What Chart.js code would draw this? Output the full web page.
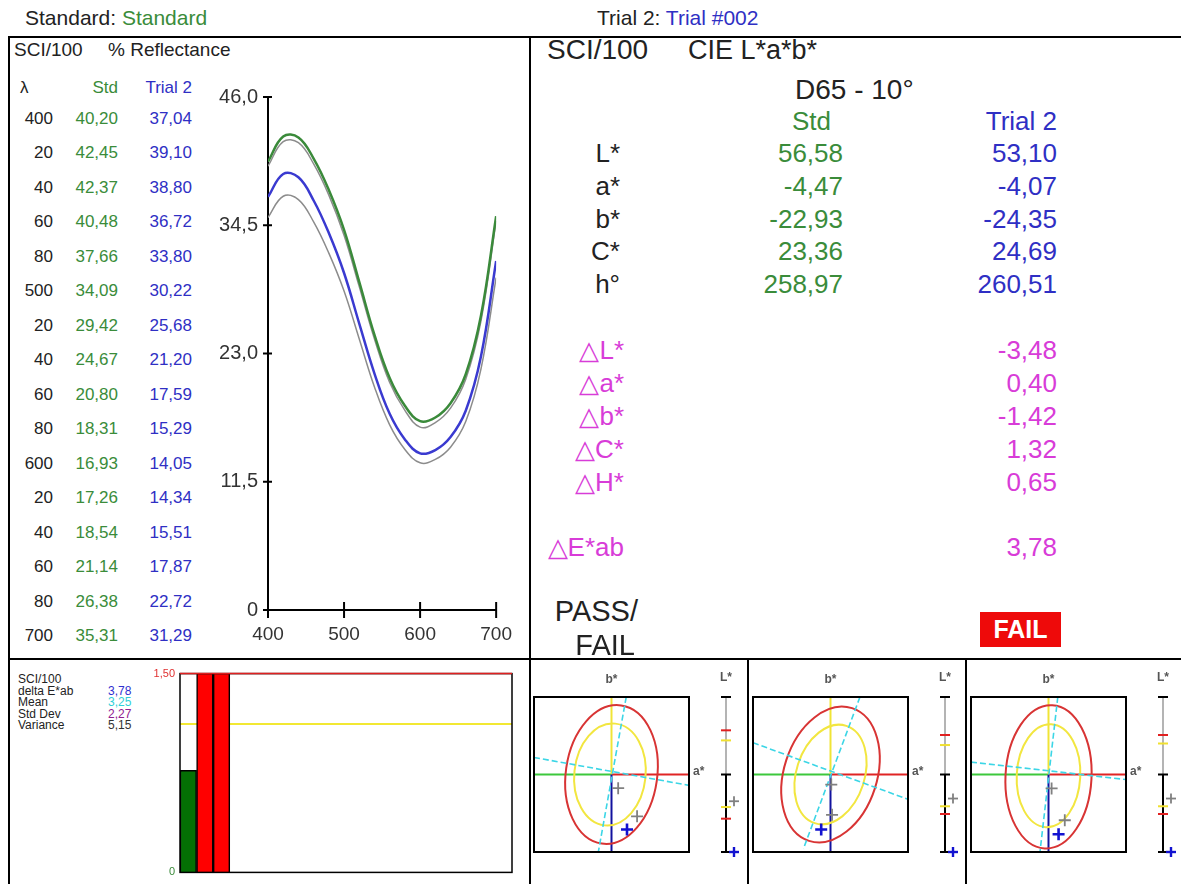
<!DOCTYPE html>
<html>
<head>
<meta charset="utf-8">
<script src="https://cdn.jsdelivr.net/npm/chart.js@4.4.0/dist/chart.umd.min.js"></script>
<style>
body{margin:0;background:#fff;}
#page{position:relative;width:1181px;height:884px;overflow:hidden;background:#fff;font-family:'Liberation Sans',Arial,sans-serif;}
.t{position:absolute;white-space:nowrap;line-height:1;}
.ln{position:absolute;background:#000;}
canvas{position:absolute;}
#fail{position:absolute;left:980px;top:612px;width:81px;height:35px;background:#ee0a0a;color:#fff;font-weight:bold;font-size:25px;line-height:35px;text-align:center;}
</style>
</head>
<body>
<div id="page">
  <div class="ln" style="left:8px;top:36px;width:1173px;height:2px"></div>
  <div class="ln" style="left:8px;top:36px;width:2px;height:848px"></div>
  <div class="ln" style="left:529px;top:36px;width:2px;height:848px"></div>
  <div class="ln" style="left:8px;top:658px;width:1173px;height:2px"></div>
  <div class="ln" style="left:747px;top:659px;width:2px;height:225px"></div>
  <div class="ln" style="left:965px;top:659px;width:2px;height:225px"></div>
  <canvas id="refl" width="325" height="580" style="left:200px;top:75px"></canvas>
  <canvas id="bars" width="380" height="222" style="left:140px;top:662px"></canvas>
  <canvas id="ab0" width="217" height="224" style="left:531px;top:660px"></canvas>
  <canvas id="ab1" width="217" height="224" style="left:750px;top:660px"></canvas>
  <canvas id="ab2" width="213" height="224" style="left:968px;top:660px"></canvas>
  <div id="fail">FAIL</div>
</div>
<script>
// spectral data (% reflectance)
var wavelengths = [400,420,440,460,480,500,520,540,560,580,600,620,640,660,680,700];
var stdRefl   = [40.20,42.45,42.37,40.48,37.66,34.09,29.42,24.67,20.80,18.31,16.93,17.26,18.54,21.14,26.38,35.31];
var trialRefl = [37.04,39.10,38.80,36.72,33.80,30.22,25.68,21.20,17.59,15.29,14.05,14.34,15.51,17.87,22.72,31.29];
// grey companion curves
var stdGrey   = [39.8,42.0,41.9,40.0,37.2,33.6,29.0,24.3,20.4,17.9,16.4,16.8,18.1,20.7,25.9,34.9];
var trialGrey = [35.2,37.1,36.8,34.8,32.0,28.6,24.3,20.0,16.6,14.4,13.2,13.5,14.6,16.9,21.6,29.8];
var xTicks = [400,500,600,700];
var yTicks = [0,11.5,23,34.5,46];
var yTickLabels = ['0','11,5','23,0','34,5','46,0'];

// CIE L*a*b* table
var labNames = ['L*','a*','b*','C*','h°'];
var labStd   = [56.58,-4.47,-22.93,23.36,258.97];
var labTrial = [53.10,-4.07,-24.35,24.69,260.51];
var deltaNames = ['△L*','△a*','△b*','△C*','△H*'];
var deltaVals  = [-3.48,0.40,-1.42,1.32,0.65];
var deltaE = 3.78;

// delta E history
var deRuns = [0.77,5.20,3.78];
var deSlots = 20;
var deLimit = 1.5;
var deWarn = 1.12;
var deStats = [['delta E*ab',3.78,'#3030d0'],['Mean',3.25,'#30d0d8'],['Std Dev',2.27,'#902090'],['Variance',5.15,'#333']];

// a*b* tolerance plots (units of the plot box, centre = standard)
var redEllipse    = [[0.59,0.90,8,0,0],[0.60,0.90,18,0,0],[0.555,0.925,3,0,-0.03]];
var yellowEllipse = [[0.46,0.66,6,-0.02,0],[0.44,0.66,18,0,0],[0.41,0.665,3,0,-0.015]];
var cyanLines = [
  [[[0.19,1.0],[-0.17,-1.0]],[[-1.0,0.22],[1.0,-0.14]]],
  [[[0.38,1.0],[-0.35,-0.96]],[[-1.0,0.41],[1.0,-0.32]]],
  [[[0.12,1.0],[-0.11,-1.0]],[[-1.0,0.16],[1.0,-0.065]]]
];
var abGrey = [[[0.086,-0.176],[0.33,-0.54]],[[0.01,-0.13],[0.02,-0.52]],[[0.04,-0.18],[0.21,-0.59]]];
var abBlue = [[0.20,-0.71],[-0.12,-0.71],[0.13,-0.77]];
var lRed    = [[0.57,-0.57],[0.51,-0.51],[0.51,-0.51]];
var lYellow = [[0.44,-0.42],[0.38,-0.41],[0.40,-0.41]];
var lGrey   = [-0.345,-0.31,-0.31];
var lBlue   = [-1.0,-1.0,-1.0];

var FONT = "'Liberation Sans', Arial, sans-serif";
var GREEN = '#3a8c3a', BLUE = '#2f2fc4', MAG = '#d83cd8';
Chart.defaults.font.family = FONT;

function fmt(v, d) { return v.toFixed(d).replace('.', ','); }

var page = document.getElementById('page');
function put(x, y, s, o) {
    o = o || {};
    var d = document.createElement('div');
    d.className = 't';
    d.innerHTML = s;
    d.style.left = x + 'px';
    d.style.top = y + 'px';
    d.style.fontSize = (o.size || 16) + 'px';
    d.style.color = o.color || '#222';
    var tx = o.align == 'right' ? '-100%' : (o.align == 'center' ? '-50%' : '0');
    d.style.transform = 'translate(' + tx + ',-50%)';
    page.appendChild(d);
    return d;
}

// header
put(25, 17, 'Standard: <span style="color:' + GREEN + '">Standard</span>', {size:21});
put(597, 17, 'Trial 2: <span style="color:' + BLUE + '">Trial #002</span>', {size:21});

// left table
put(14, 49, 'SCI/100', {size:19});
put(108, 49, '% Reflectance', {size:19});
put(20, 87, 'λ', {size:17});
put(118, 87, 'Std', {size:17, align:'right', color:GREEN});
put(192, 87, 'Trial 2', {size:17, align:'right', color:BLUE});
for (var i = 0; i < wavelengths.length; i++) {
    var w = wavelengths[i];
    var y = 118 + i * 34.47;
    put(53, y, String(w % 100 == 0 ? w : w % 100), {size:17, align:'right'});
    put(118, y, fmt(stdRefl[i], 2), {size:17, align:'right', color:GREEN});
    put(192, y, fmt(trialRefl[i], 2), {size:17, align:'right', color:BLUE});
}

// right table
put(547, 50, 'SCI/100', {size:28});
put(688, 50, 'CIE L*a*b*', {size:27});
put(795, 90, 'D65 - 10°', {size:28});
put(831, 121, 'Std', {size:26, align:'right', color:GREEN});
put(1057, 121, 'Trial 2', {size:26, align:'right', color:BLUE});
for (var i = 0; i < labNames.length; i++) {
    var y = 153 + i * 32.8;
    put(620, y, labNames[i], {size:26, align:'right'});
    put(843, y, fmt(labStd[i], 2), {size:26, align:'right', color:GREEN});
    put(1057, y, fmt(labTrial[i], 2), {size:26, align:'right', color:BLUE});
}
for (var i = 0; i < deltaNames.length; i++) {
    var y = 350 + i * 33;
    put(624, y, deltaNames[i], {size:26, align:'right', color:MAG});
    put(1057, y, fmt(deltaVals[i], 2), {size:26, align:'right', color:MAG});
}
put(624, 547, '△E*ab', {size:26, align:'right', color:MAG});
put(1057, 547, fmt(deltaE, 2), {size:26, align:'right', color:MAG});
put(638, 611, 'PASS/', {size:29, align:'right'});
put(635, 645, 'FAIL', {size:29, align:'right'});

// bottom left stats
put(18, 679, 'SCI/100', {size:12});
for (var i = 0; i < deStats.length; i++) {
    put(18, 690.5 + i * 11.5, deStats[i][0], {size:12});
    put(108, 690.5 + i * 11.5, fmt(deStats[i][1], 2), {size:12, color:deStats[i][2]});
}

// ---- reflectance curves
var crossTicks = {
    id: 'crossTicks',
    afterDraw: function(chart) {
        var ctx = chart.ctx, a = chart.chartArea;
        var sx = chart.scales.x, sy = chart.scales.y;
        ctx.save();
        ctx.strokeStyle = '#000';
        ctx.lineWidth = 2;
        sx.ticks.forEach(function(t) {
            var p = sx.getPixelForValue(t.value);
            ctx.beginPath(); ctx.moveTo(p, a.bottom - 8); ctx.lineTo(p, a.bottom + 8); ctx.stroke();
        });
        sy.ticks.forEach(function(t) {
            var p = sy.getPixelForValue(t.value);
            ctx.beginPath(); ctx.moveTo(a.left - 5, p); ctx.lineTo(a.left + 4, p); ctx.stroke();
        });
        ctx.restore();
    }
};

function pts(vals) {
    return wavelengths.map(function(w, i) { return {x: w, y: vals[i]}; });
}

var reflChart = new Chart(document.getElementById('refl'), {
    type: 'line',
    data: {
        datasets: [
            {label: 'Std', data: pts(stdRefl), borderColor: '#3a8a3a', borderWidth: 2.5},
            {label: 'Std grey', data: pts(stdGrey), borderColor: '#8c8c8c', borderWidth: 1.5},
            {label: 'Trial 2', data: pts(trialRefl), borderColor: '#3a3ad0', borderWidth: 2.5},
            {label: 'Trial grey', data: pts(trialGrey), borderColor: '#8c8c8c', borderWidth: 1.5}
        ]
    },
    options: {
        responsive: false,
        animation: false,
        layout: {padding: {top: 16, right: 17, left: 0, bottom: 0}, autoPadding: false},
        plugins: {legend: {display: false}, tooltip: {enabled: false}},
        elements: {point: {radius: 0}, line: {tension: 0.4}},
        scales: {
            x: {
                type: 'linear', min: 400, max: 700,
                afterBuildTicks: function(s) { s.ticks = xTicks.map(function(v) { return {value: v}; }); },
                afterFit: function(s) { s.height = 45; },
                grid: {display: false, drawTicks: false},
                border: {color: '#000', width: 2},
                ticks: {color: '#333', font: {size: 19}, padding: 13, maxRotation: 0}
            },
            y: {
                min: 0, max: 46,
                afterBuildTicks: function(s) { s.ticks = yTicks.map(function(v) { return {value: v}; }); },
                afterFit: function(s) { s.width = 68; },
                grid: {display: false, drawTicks: false},
                border: {color: '#000', width: 2},
                ticks: {color: '#333', font: {size: 20}, padding: 10,
                    callback: function(v) { return yTickLabels[yTicks.indexOf(v)]; }}
            }
        }
    },
    plugins: [crossTicks]
});

// ---- delta E bars
var deFrame = {
    id: 'deFrame',
    beforeDatasetsDraw: function(chart) {
        var ctx = chart.ctx, a = chart.chartArea, y = chart.scales.y;
        var yw = y.getPixelForValue(deWarn);
        ctx.save();
        ctx.strokeStyle = '#f2e832'; ctx.lineWidth = 2;
        ctx.beginPath(); ctx.moveTo(a.left, yw); ctx.lineTo(a.right, yw); ctx.stroke();
        ctx.restore();
    },
    afterDatasetsDraw: function(chart) {
        var ctx = chart.ctx, a = chart.chartArea, y = chart.scales.y;
        ctx.save();
        ctx.strokeStyle = '#000'; ctx.lineWidth = 1.5;
        ctx.strokeRect(a.left, a.top, a.width, a.height);
        var yl = y.getPixelForValue(deLimit);
        ctx.strokeStyle = '#e02020'; ctx.lineWidth = 1.5;
        ctx.beginPath(); ctx.moveTo(a.left, yl); ctx.lineTo(a.right, yl); ctx.stroke();
        ctx.restore();
    }
};

var deLabels = [];
var deData = [];
for (var i = 0; i < deSlots; i++) {
    deLabels.push(String(i + 1));
    deData.push(i < deRuns.length ? deRuns[i] : null);
}

var barChart = new Chart(document.getElementById('bars'), {
    type: 'bar',
    data: {
        labels: deLabels,
        datasets: [{
            label: 'delta E*ab',
            data: deData,
            backgroundColor: deData.map(function(v) { return v != null && v <= deLimit ? '#047004' : '#ff0000'; }),
            borderColor: '#000',
            borderWidth: 1.5,
            barPercentage: 1,
            categoryPercentage: 1
        }]
    },
    options: {
        responsive: false,
        animation: false,
        layout: {padding: {top: 8, right: 8, left: 0, bottom: 6}, autoPadding: false},
        plugins: {legend: {display: false}, tooltip: {enabled: false}},
        scales: {
            x: {display: false},
            y: {
                min: 0, max: deLimit,
                afterBuildTicks: function(s) { s.ticks = [{value: 0}, {value: deLimit}]; },
                afterFit: function(s) { s.width = 40; },
                grid: {display: false, drawTicks: false},
                border: {display: false},
                ticks: {font: {size: 11}, padding: 5,
                    color: function(c) { return c.tick.value == 0 ? '#3a8a3a' : '#e03030'; },
                    callback: function(v) { return v == 0 ? '0' : fmt(v, 2); }}
            }
        }
    },
    plugins: [deFrame]
});

// ---- a*b* panels
function seg(ctx, x1, y1, x2, y2, c, w) {
    ctx.strokeStyle = c; ctx.lineWidth = w;
    ctx.beginPath(); ctx.moveTo(x1, y1); ctx.lineTo(x2, y2); ctx.stroke();
}
function plus(ctx, x, y, r, c, w) {
    seg(ctx, x - r, y, x + r, y, c, w);
    seg(ctx, x, y - r, x, y + r, c, w);
}

var abPanel = {
    id: 'abPanel',
    beforeDatasetsDraw: function(chart, args, opts) {
        var i = opts.index;
        var ctx = chart.ctx, a = chart.chartArea, sx = chart.scales.x, sy = chart.scales.y;
        var px = function(v) { return sx.getPixelForValue(v); };
        var py = function(v) { return sy.getPixelForValue(v); };
        var ux = px(1) - px(0), uy = py(0) - py(1);
        ctx.save();
        seg(ctx, px(-1), py(0), px(0), py(0), '#3cc83c', 2);
        seg(ctx, px(0), py(0), px(1), py(0), '#e02424', 2);
        seg(ctx, px(0), py(0), px(0), py(1), '#f0e436', 2);
        seg(ctx, px(0), py(0), px(0), py(-1), '#12129e', 2);
        [[yellowEllipse, '#f2e640'], [redEllipse, '#d83434']].forEach(function(p) {
            var e = p[0][i];
            ctx.beginPath();
            ctx.ellipse(px(e[3]), py(e[4]), e[0] * ux, e[1] * uy, e[2] * Math.PI / 180, 0, Math.PI * 2);
            ctx.strokeStyle = p[1]; ctx.lineWidth = 2; ctx.stroke();
        });
        ctx.save();
        ctx.beginPath(); ctx.rect(a.left, a.top, a.right - a.left, a.bottom - a.top); ctx.clip();
        ctx.setLineDash([6, 3]);
        cyanLines[i].forEach(function(l) {
            seg(ctx, px(l[0][0]), py(l[0][1]), px(l[1][0]), py(l[1][1]), '#3cd6e6', 1.6);
        });
        ctx.restore();
        ctx.strokeStyle = '#000'; ctx.lineWidth = 2;
        ctx.strokeRect(a.left, a.top, a.right - a.left, a.bottom - a.top);
        ctx.fillStyle = '#555';
        ctx.font = 'bold 12px ' + FONT;
        ctx.textAlign = 'center'; ctx.textBaseline = 'middle';
        ctx.fillText('b*', px(0), a.top - 17);
        ctx.textAlign = 'left';
        ctx.fillText('a*', a.right + 4, py(0) - 3);
        ctx.restore();
    },
    afterDraw: function(chart, args, opts) {
        var i = opts.index;
        var ctx = chart.ctx, a = chart.chartArea, sy = chart.scales.y;
        var py = function(v) { return sy.getPixelForValue(v); };
        var lx = a.right + 37;
        ctx.save();
        seg(ctx, lx, py(1), lx, py(0), '#b4b4b4', 2);
        seg(ctx, lx, py(0), lx, py(-1), '#000', 2);
        [1, 0, -1].forEach(function(v) { seg(ctx, lx - 5, py(v), lx + 5, py(v), '#000', 2); });
        lRed[i].forEach(function(v) { seg(ctx, lx - 5, py(v), lx + 5, py(v), '#e02020', 2); });
        lYellow[i].forEach(function(v) { seg(ctx, lx - 5, py(v), lx + 5, py(v), '#f0e030', 2); });
        plus(ctx, lx + 8, py(lGrey[i]), 5, '#808080', 1.8);
        plus(ctx, lx + 8, py(lBlue[i]), 5, '#1212d0', 2.4);
        ctx.fillStyle = '#555';
        ctx.font = 'bold 12px ' + FONT;
        ctx.textAlign = 'center'; ctx.textBaseline = 'middle';
        ctx.fillText('L*', lx, a.top - 19);
        ctx.restore();
    }
};

function chartRight(i) { return i == 2 ? 55 : 59; }

['ab0', 'ab1', 'ab2'].forEach(function(id, i) {
    new Chart(document.getElementById(id), {
        type: 'scatter',
        data: {
            datasets: [
                {label: 'Trials', data: abGrey[i].map(function(p) { return {x: p[0], y: p[1]}; }),
                 pointStyle: 'cross', pointRadius: 6, borderColor: '#808080', borderWidth: 1.8},
                {label: 'Trial 2', data: [{x: abBlue[i][0], y: abBlue[i][1]}],
                 pointStyle: 'cross', pointRadius: 6, borderColor: '#1212d0', borderWidth: 2.6}
            ]
        },
        options: {
            responsive: false,
            animation: false,
            layout: {padding: {left: 3, right: chartRight(i), top: 37, bottom: 32}, autoPadding: false},
            plugins: {legend: {display: false}, tooltip: {enabled: false}, abPanel: {index: i}},
            scales: {
                x: {type: 'linear', min: -1, max: 1, display: false},
                y: {type: 'linear', min: -1, max: 1, display: false}
            }
        },
        plugins: [abPanel]
    });
});
</script>
</body>
</html>
